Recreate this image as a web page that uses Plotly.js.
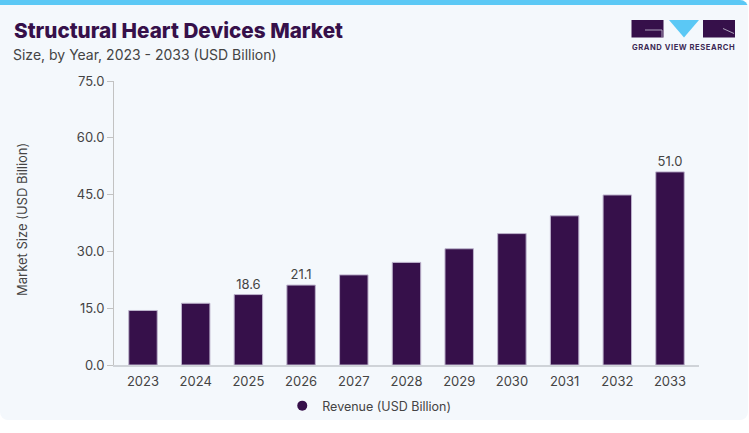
<!DOCTYPE html>
<html>
<head>
<meta charset="utf-8">
<script src="https://cdn.plot.ly/plotly-3.0.1.min.js"></script>
<style>
  html, body { margin:0; padding:0; background:#ffffff; }
  #wrap { position:relative; width:749px; height:433px; overflow:hidden; background:#ffffff; }
  #card { position:absolute; left:0; top:0; width:748px; height:420px; background:#f4f8fc;
          border-radius:0 8px 8px 8px; overflow:hidden; }
  #strip { position:absolute; left:0; top:0; width:100%; height:5px; background:#5bc8f5; }
  #chart { position:absolute; left:0; top:0; width:749px; height:433px; }
  #logo { position:absolute; left:631px; top:19px; width:106px; height:20px; }
  #logotext { position:absolute; left:632px; top:43px; width:104px; font-family:Inter, 'DejaVu Sans', sans-serif;
              font-size:7.6px; font-weight:700; color:#3d2a55; letter-spacing:0.55px; white-space:nowrap; line-height:10px; }
</style>
</head>
<body>
<div id="wrap">
  <div id="card"><div id="strip"></div></div>
  <div id="chart"></div>
  <svg id="logo" width="106" height="20" viewBox="0 0 106 20">
    <rect x="0.5" y="1" width="32" height="17.5" fill="#36104a"/>
    <polyline points="14,11 31,11 31,18.5" fill="none" stroke="#b9b1c6" stroke-width="0.9"/>
    <polygon points="38,1 68,1 53,18.5" fill="#5bc8f5"/>
    <rect x="72" y="1" width="32" height="17.5" fill="#36104a"/>
    <polyline points="92,9.5 103,14.5" fill="none" stroke="#b9b1c6" stroke-width="0.9"/>
  </svg>
  <div id="logotext">GRAND VIEW RESEARCH</div>
</div>
<script>
const years = ['2023','2024','2025','2026','2027','2028','2029','2030','2031','2032','2033'];
const revenue = [14.4, 16.3, 18.6, 21.1, 23.8, 27.1, 30.7, 34.7, 39.4, 44.9, 51.0];
const shownLabels = ['', '', '18.6', '21.1', '', '', '', '', '', '', '51.0'];
const yTicks = [0, 15, 30, 45, 60, 75];
const yTickText = ['0.0', '15.0', '30.0', '45.0', '60.0', '75.0'];
const seriesName = 'Revenue (USD Billion)';

const FONT = 'Inter, "Open Sans", "DejaVu Sans", sans-serif';

const traces = [
  {
    type: 'bar',
    x: years,
    y: revenue,
    text: shownLabels,
    textposition: 'outside',
    cliponaxis: false,
    textfont: { family: FONT, size: 13, color: '#444444' },
    marker: { color: '#36104a', line: { color: '#bdb3cc', width: 1 } },
    width: 0.54,
    showlegend: false,
    hoverinfo: 'x+y'
  },
  {
    type: 'scatter',
    mode: 'markers',
    x: [null],
    y: [null],
    name: seriesName,
    marker: { color: '#36104a', size: 10, symbol: 'circle' },
    showlegend: true
  }
];

const layout = {
  width: 749,
  height: 433,
  margin: { l: 114, r: 50, t: 81, b: 68, pad: 0 },
  paper_bgcolor: 'rgba(0,0,0,0)',
  plot_bgcolor: 'rgba(0,0,0,0)',
  font: { family: FONT, color: '#444444' },
  title: {
    text: 'Structural Heart Devices Market',
    font: { family: FONT, size: 20.7, weight: 800, color: '#36104a' },
    x: 14 / 749, xref: 'container', xanchor: 'left',
    y: 1 - 31 / 433, yref: 'container', yanchor: 'middle'
  },
  annotations: [
    {
      text: 'Size, by Year, 2023 - 2033 (USD Billion)',
      xref: 'paper', yref: 'paper',
      x: (11 - 114) / 585, y: 1 + (81 - 55) / 284,
      xanchor: 'left', yanchor: 'middle', showarrow: false,
      font: { family: FONT, size: 14, color: '#444444' }
    },
    {
      text: 'Market Size (USD Billion)',
      xref: 'paper', yref: 'paper',
      x: (22 - 114) / 585, y: (365 - 220) / 284,
      xanchor: 'center', yanchor: 'middle', showarrow: false, textangle: -90,
      font: { family: FONT, size: 13, color: '#444444' }
    }
  ],
  xaxis: {
    type: 'category',
    range: [-0.55, 10.55],
    showline: true, linecolor: '#cfd3d8', linewidth: 2,
    ticks: '', showgrid: false, zeroline: false,
    ticklabelstandoff: 3,
    tickfont: { family: FONT, size: 13, color: '#444444' },
    fixedrange: true
  },
  yaxis: {
    range: [0, 75],
    tickvals: yTicks, ticktext: yTickText,
    showline: true, linecolor: '#c2c2c2', linewidth: 1,
    ticks: 'outside', ticklen: 6, tickcolor: '#c2c2c2', tickwidth: 1,
    showgrid: false, zeroline: false,
    tickfont: { family: FONT, size: 13, color: '#444444' },
    fixedrange: true
  },
  legend: {
    orientation: 'h',
    xref: 'container', yref: 'container',
    x: 0.493, xanchor: 'center',
    y: 1 - 406 / 433, yanchor: 'middle',
    bgcolor: 'rgba(0,0,0,0)',
    font: { family: FONT, size: 12.5, color: '#444444' }
  },
  bargap: 0.46,
  showlegend: true
};

Plotly.newPlot('chart', traces, layout, { displayModeBar: false, staticPlot: false });
</script>
</body>
</html>
